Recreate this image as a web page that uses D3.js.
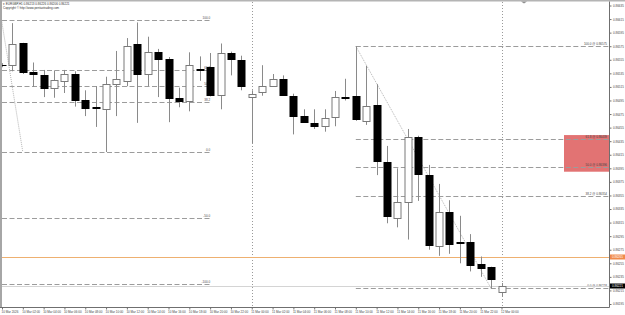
<!DOCTYPE html>
<html>
<head>
<meta charset="utf-8">
<script src="https://cdn.jsdelivr.net/npm/d3@7"></script>
<style>
body { margin: 0; background: #fff; }
svg { display: block; font-family: "Liberation Sans", Arial, sans-serif; }
</style>
</head>
<body>
<div id="chart"></div>
<script>
// EURGBP H1 candles
let opens  = [0.86548,0.86547,0.86579,0.86537,0.86532,0.86514,0.86524,0.86534,0.86495,0.86485,
              0.86482,0.86520,0.86524,0.86578,0.86534,0.86566,0.86556,0.86498,0.86494,0.86541,
              0.86545,0.86503,0.86565,0.86555,0.86500,0.86508,0.86516,0.86526,0.86501,0.86472,
              0.86462,0.86457,0.86470,0.86500,0.86501,0.86465,0.86488,0.86405,0.86322,0.86346,
              0.86441,0.86385,0.86281,0.86330,0.86286,0.86286,0.86254,0.86250,0.86213];
let highs  = [0.86550,0.86609,0.86580,0.86551,0.86540,0.86539,0.86540,0.86538,0.86510,0.86516,
              0.86530,0.86568,0.86587,0.86610,0.86589,0.86571,0.86559,0.86514,0.86566,0.86560,
              0.86565,0.86579,0.86567,0.86561,0.86510,0.86547,0.86534,0.86532,0.86505,0.86482,
              0.86482,0.86482,0.86509,0.86527,0.86575,0.86546,0.86519,0.86428,0.86395,0.86453,
              0.86443,0.86400,0.86372,0.86348,0.86325,0.86298,0.86265,0.86250,0.86226];
let lows   = [0.86544,0.86538,0.86534,0.86515,0.86500,0.86499,0.86506,0.86486,0.86472,0.86456,
              0.86419,0.86472,0.86516,0.86462,0.86516,0.86500,0.86463,0.86485,0.86479,0.86524,
              0.86501,0.86482,0.86532,0.86510,0.86432,0.86502,0.86515,0.86502,0.86445,0.86462,
              0.86453,0.86449,0.86457,0.86495,0.86465,0.86459,0.86385,0.86314,0.86308,0.86290,
              0.86347,0.86275,0.86266,0.86269,0.86255,0.86243,0.86235,0.86218,0.86206];
let closes = [0.86547,0.86578,0.86537,0.86534,0.86513,0.86525,0.86534,0.86495,0.86484,0.86484,
              0.86519,0.86526,0.86576,0.86534,0.86567,0.86556,0.86498,0.86494,0.86547,0.86540,
              0.86503,0.86565,0.86556,0.86517,0.86504,0.86516,0.86526,0.86503,0.86472,0.86463,
              0.86458,0.86469,0.86500,0.86499,0.86467,0.86487,0.86406,0.86325,0.86345,0.86441,
              0.86386,0.86282,0.86330,0.86284,0.86285,0.86253,0.86248,0.86232,0.86221];

let timeTicks  = [0,2,4,6,8,10,12,14,16,18,20,22,24,26,28,30,32,34,36,38,40,42,44,46,48];
let timeLabels = ["10 Mar 2026","10 Mar 02:00","10 Mar 04:00","10 Mar 06:00","10 Mar 08:00",
                  "10 Mar 10:00","10 Mar 12:00","10 Mar 14:00","10 Mar 16:00","10 Mar 18:00",
                  "10 Mar 20:00","10 Mar 22:00","11 Mar 00:00","11 Mar 02:00","11 Mar 04:00",
                  "11 Mar 06:00","11 Mar 08:00","11 Mar 10:00","11 Mar 12:00","11 Mar 14:00",
                  "11 Mar 16:00","11 Mar 18:00","11 Mar 20:00","11 Mar 22:00","12 Mar 00:00"];
let priceTicks = [0.86635,0.86615,0.86595,0.86575,0.86555,0.86535,0.86515,0.86495,0.86475,
                  0.86455,0.86435,0.86415,0.86395,0.86375,0.86355,0.86335,0.86315,0.86295,
                  0.86275,0.86255,0.86235,0.86215,0.86195];
let daySeparators = [24, 48];

// fibo on the left (older swing)
let fibLeftLevels = [100, 61.8, 50, 38.2, 0, -50, -100];
let fibLeftHigh = 0.86614, fibLeftLow = 0.86419;
// fibo on the right (current swing)
let fibRightLevels = [100, 61.8, 50, 38.2, 0];
let fibRightHigh = 0.86575, fibRightLow = 0.86218;
let zoneTop = 0.86444, zoneBottom = 0.86390;
let hLinePrice = 0.86265;

let W = 625, H = 315;
let plotR = 609, plotB = 307;

let svg = d3.select("#chart").append("svg")
    .attr("width", W)
    .attr("height", H);

let x = d3.scaleLinear().domain([0, 48]).range([2, 501.5]);
let y = d3.scaleLinear().domain([0.86195, 0.86635]).range([304, 5.5]);

let bars = opens.map((o, i) => ({ i: i, o: o, h: highs[i], l: lows[i], c: closes[i] }));

// red zone (background object)
svg.append("rect")
    .attr("x", Math.round(x(54)))
    .attr("y", y(zoneTop))
    .attr("width", plotR - Math.round(x(54)))
    .attr("height", y(zoneBottom) - y(zoneTop))
    .style("fill", "#e27373");

// day separators
svg.selectAll(".sep")
    .data(daySeparators)
    .enter()
    .append("line")
    .attr("x1", d => Math.round(x(d)) + 0.5)
    .attr("x2", d => Math.round(x(d)) + 0.5)
    .attr("y1", 2)
    .attr("y2", plotB)
    .style("stroke", "#9a9a9a")
    .style("stroke-dasharray", "1,2");

// left fibo
let fibL = d3.scaleLinear().domain([0, 100]).range([fibLeftLow, fibLeftHigh]);
svg.selectAll(".fibL")
    .data(fibLeftLevels)
    .enter()
    .append("line")
    .attr("x1", x(0))
    .attr("x2", x(20))
    .attr("y1", d => Math.round(y(fibL(d))) + 0.5)
    .attr("y2", d => Math.round(y(fibL(d))) + 0.5)
    .style("stroke", "#9c9c9c")
    .style("stroke-dasharray", "5,2.5");
svg.selectAll(".fibLt")
    .data(fibLeftLevels)
    .enter()
    .append("text")
    .attr("x", x(20))
    .attr("y", d => Math.round(y(fibL(d))) - 0.6)
    .attr("text-anchor", "end")
    .style("font-size", "3px")
    .style("fill", "#444")
    .text(d => d.toFixed(1));
svg.append("line")
    .attr("x1", x(-0.05)).attr("y1", y(fibLeftHigh))
    .attr("x2", x(2)).attr("y2", y(fibLeftLow))
    .style("stroke", "#b5b5b5")
    .style("stroke-dasharray", "1,1");

// right fibo
let fibR = d3.scaleLinear().domain([0, 100]).range([fibRightLow, fibRightHigh]);
svg.selectAll(".fibR")
    .data(fibRightLevels)
    .enter()
    .append("line")
    .attr("x1", x(34))
    .attr("x2", plotR)
    .attr("y1", d => Math.round(y(fibR(d))) + 0.5)
    .attr("y2", d => Math.round(y(fibR(d))) + 0.5)
    .style("stroke", "#9c9c9c")
    .style("stroke-dasharray", "5,2.5");
svg.selectAll(".fibRt")
    .data(fibRightLevels)
    .enter()
    .append("text")
    .attr("x", plotR - 2)
    .attr("y", d => Math.round(y(fibR(d))) - 0.6)
    .attr("text-anchor", "end")
    .style("font-size", "3px")
    .style("fill", "#444")
    .text(d => d.toFixed(1) + " @ " + fibR(d).toFixed(5));
svg.append("line")
    .attr("x1", x(34)).attr("y1", y(fibRightHigh))
    .attr("x2", x(47)).attr("y2", y(fibRightLow))
    .style("stroke", "#b5b5b5")
    .style("stroke-dasharray", "1,1");

// orange horizontal line and bid line
svg.append("line")
    .attr("x1", 2).attr("x2", plotR)
    .attr("y1", Math.round(y(hLinePrice)) + 0.5)
    .attr("y2", Math.round(y(hLinePrice)) + 0.5)
    .style("stroke", "#eeb070");
let bid = closes[closes.length - 1];
svg.append("line")
    .attr("x1", 2).attr("x2", plotR)
    .attr("y1", Math.round(y(bid)) + 0.5)
    .attr("y2", Math.round(y(bid)) + 0.5)
    .style("stroke", "#d4d4d4");

// candles
let cx = d => Math.round(x(d.i)) + 0.5;
svg.selectAll(".wick")
    .data(bars)
    .enter()
    .append("line")
    .attr("x1", cx).attr("x2", cx)
    .attr("y1", d => y(d.h))
    .attr("y2", d => y(d.l))
    .style("stroke", "#8a8a8a");

svg.selectAll(".body")
    .data(bars)
    .enter()
    .append("rect")
    .attr("x", d => Math.round(x(d.i)) - 3.5 + 0.5)
    .attr("y", d => Math.round(y(Math.max(d.o, d.c))) + 0.5)
    .attr("width", 7)
    .attr("height", d => Math.max(0.01, Math.round(y(Math.min(d.o, d.c))) - Math.round(y(Math.max(d.o, d.c)))))
    .style("fill", d => d.c > d.o ? "#fff" : "#000")
    .style("stroke", d => d.c > d.o ? "#7a7a7a" : "#000");

// frame
svg.append("rect").attr("x", 0).attr("y", 0).attr("width", W).attr("height", 1.5).style("fill", "#b4b4b4");
svg.append("rect").attr("x", 0).attr("y", 0).attr("width", 2).attr("height", plotB).style("fill", "#a6a6a6");
svg.append("line").attr("x1", plotR + 0.5).attr("x2", plotR + 0.5).attr("y1", 1.5).attr("y2", plotB + 0.5)
    .style("stroke", "#6f6f6f");
svg.append("line").attr("x1", 0).attr("x2", plotR + 0.5).attr("y1", plotB + 0.5).attr("y2", plotB + 0.5)
    .style("stroke", "#6f6f6f");
// chart shift marker
svg.append("path").attr("d", "M521,1.5 L527,1.5 L524,3.5 Z").style("fill", "#909090");

// axes
let yAxis = d3.axisRight(y)
    .tickValues(priceTicks)
    .tickSize(2)
    .tickPadding(1.5)
    .tickFormat(d3.format(".5f"));
let gy = svg.append("g").attr("transform", "translate(" + (plotR + 0.5) + ",0)").call(yAxis);
gy.select(".domain").remove();
gy.selectAll("line").style("stroke", "#6f6f6f");
gy.selectAll("text").style("font-size", "3px").style("fill", "#444").attr("font-family", null);

let xAxis = d3.axisBottom(x)
    .tickValues(timeTicks)
    .tickSize(2)
    .tickPadding(1)
    .tickFormat((d, i) => timeLabels[i]);
let gx = svg.append("g").attr("transform", "translate(0," + (plotB + 0.5) + ")").call(xAxis);
gx.select(".domain").remove();
gx.selectAll("line").style("stroke", "#6f6f6f");
gx.selectAll("text")
    .attr("text-anchor", "start")
    .attr("dx", -1)
    .attr("font-family", null)
    .style("font-size", "3px")
    .style("fill", "#444");

// price tags on the axis
let tags = [
    { p: hLinePrice, fill: "#f08a4b", color: "#fff" },
    { p: bid, fill: "#000", color: "#fff" }
];
tags.forEach(t => {
    let ty = Math.round(y(t.p));
    svg.append("rect")
        .attr("x", plotR + 1).attr("y", ty - 2.5)
        .attr("width", 15).attr("height", 5)
        .style("fill", t.fill);
    svg.append("text")
        .attr("x", plotR + 3).attr("y", ty + 1.1)
        .style("font-size", "3px")
        .style("fill", t.color)
        .text(t.p.toFixed(5));
});

// header
let last = bars[bars.length - 1];
svg.append("text")
    .attr("x", 3).attr("y", 5)
    .style("font-size", "3px")
    .style("fill", "#333")
    .text("\u25BE " + "EURGBP,H1  " + [last.o, last.h, last.l, last.c].map(v => v.toFixed(5)).join(" "));
svg.append("text")
    .attr("x", 3).attr("y", 9)
    .style("font-size", "3px")
    .style("fill", "#333")
    .text("Copyright \u00A9 http://www.pentaxtrading.com");
</script>
</body>
</html>
